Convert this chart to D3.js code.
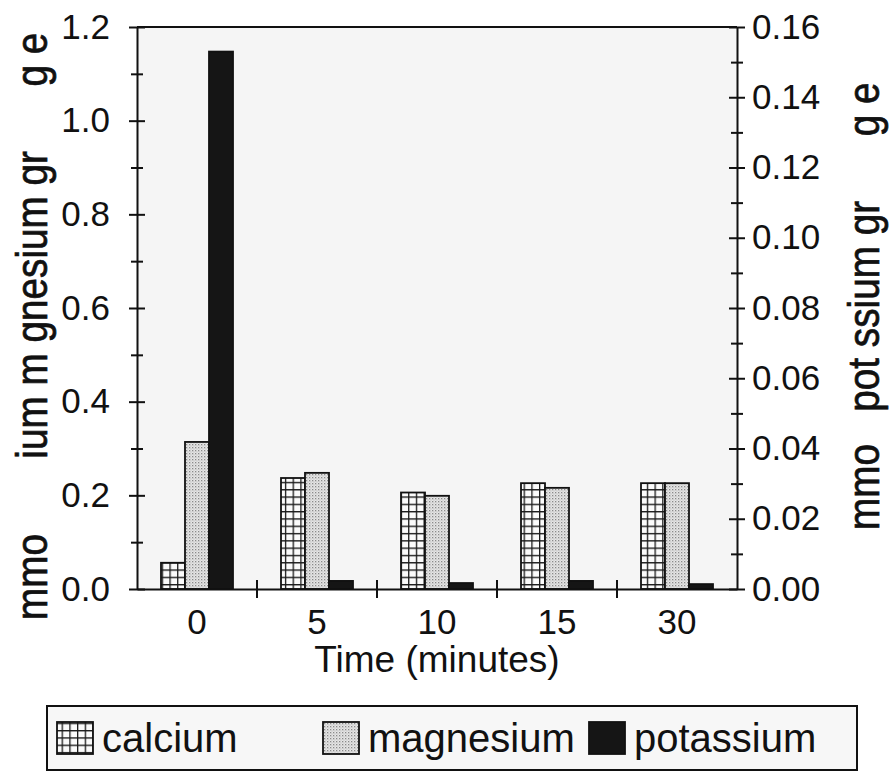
<!DOCTYPE html>
<html><head><meta charset="utf-8">
<script src="https://cdn.jsdelivr.net/npm/d3@7"></script>
<style>
body{margin:0;background:#fff}
svg text{font-family:"Liberation Sans",Arial,Helvetica,sans-serif;fill:#111}
</style>
</head><body><svg id="c" width="891" height="782"></svg>
<script>
// ---- data ----
const categories = ["0", "5", "10", "15", "30"];
const seriesNames = ["calcium", "magnesium", "potassium"];
const calcium   = [0.056, 0.237, 0.206, 0.226, 0.226];   // left axis
const magnesium = [0.314, 0.248, 0.199, 0.216, 0.226];   // left axis
const potassium = [0.153, 0.0023, 0.0017, 0.0023, 0.0014]; // right axis
const leftTicks  = [0, 0.2, 0.4, 0.6, 0.8, 1.0, 1.2];
const leftMinor  = [0.1, 0.3, 0.5, 0.7, 0.9, 1.1];
const rightTicks = [0, 0.02, 0.04, 0.06, 0.08, 0.10, 0.12, 0.14, 0.16];
const rightMinor = [0.01, 0.03, 0.05, 0.07, 0.09, 0.11, 0.13, 0.15];
const xTitle = "Time (minutes)";
const leftTitle  = "mmo       ium m gnesium gr      g e";
const rightTitle = "mmo   pot ssium gr      g e";

// ---- layout ----
const svg = d3.select("#c");
const X0 = 137, X1 = 737, YT = 27, YB = 589;

const x = d3.scaleBand().domain(categories).range([X0, X1]).padding(0);
const xs = d3.scaleBand().domain(seriesNames).range([0, x.bandwidth()]).paddingInner(0).paddingOuter(1);
const yL = d3.scaleLinear().domain([0, 1.2]).range([YB, YT]);
const yR = d3.scaleLinear().domain([0, 0.16]).range([YB, YT]);

const defs = svg.append("defs");
const pg = defs.append("pattern").attr("id", "grid").attr("patternUnits", "userSpaceOnUse")
  .attr("width", 7.7).attr("height", 7.3);
pg.append("rect").attr("width", 7.7).attr("height", 7.3).attr("fill", "#fbfbfb");
pg.append("path").attr("d", "M0.6,0V7.3M0,0.6H7.7").attr("stroke", "#1a1a1a").attr("stroke-width", 1.4);
const pd = defs.append("pattern").attr("id", "dots").attr("patternUnits", "userSpaceOnUse")
  .attr("width", 3).attr("height", 3);
pd.append("rect").attr("width", 3).attr("height", 3).attr("fill", "#e6e6e6");
pd.append("rect").attr("width", 1.3).attr("height", 1.3).attr("fill", "#8a8a8a");
pd.append("rect").attr("x", 1.5).attr("y", 1.5).attr("width", 1).attr("height", 1).attr("fill", "#b0b0b0");

// plot background
svg.append("rect").attr("x", X0).attr("y", YT).attr("width", X1 - X0).attr("height", YB - YT).attr("fill", "#f5f5f5");

// bars
const rows = categories.map((c, i) => ({cat: c, calcium: calcium[i], magnesium: magnesium[i], potassium: potassium[i]}));
const fills = {calcium: "url(#grid)", magnesium: "url(#dots)", potassium: "#151515"};
const scaleFor = {calcium: yL, magnesium: yL, potassium: yR};
const gb = svg.append("g");
rows.forEach(r => {
  seriesNames.forEach(s => {
    const sc = scaleFor[s];
    gb.append("rect")
      .attr("x", x(r.cat) + xs(s))
      .attr("y", sc(r[s]))
      .attr("width", xs.bandwidth())
      .attr("height", YB - sc(r[s]))
      .attr("fill", fills[s])
      .attr("stroke", "#111").attr("stroke-width", 1.8);
  });
});

// frame
svg.append("line").attr("x1", X0).attr("x2", X1).attr("y1", YT).attr("y2", YT).attr("stroke", "#111").attr("stroke-width", 2);

const fontTick = 35;
// left axis
const gl = svg.append("g").attr("transform", `translate(${X0},0)`)
  .call(d3.axisLeft(yL).tickValues(leftTicks).tickFormat(d3.format(".1f")).tickSizeOuter(0));
gl.select(".domain").attr("stroke", "#111").attr("stroke-width", 2);
gl.selectAll(".tick line").attr("x1", -8).attr("x2", 8).attr("stroke", "#111").attr("stroke-width", 2);
gl.selectAll(".tick text").attr("x", -27).attr("font-size", fontTick).attr("fill", "#111");
const glm = svg.append("g").attr("transform", `translate(${X0},0)`)
  .call(d3.axisLeft(yL).tickValues(leftMinor).tickFormat("").tickSizeOuter(0));
glm.select(".domain").remove();
glm.selectAll(".tick line").attr("x1", -6).attr("x2", 6).attr("stroke", "#111").attr("stroke-width", 2);

// right axis
const gr = svg.append("g").attr("transform", `translate(${X1},0)`)
  .call(d3.axisRight(yR).tickValues(rightTicks).tickFormat(d3.format(".2f")).tickSizeOuter(0));
gr.select(".domain").attr("stroke", "#111").attr("stroke-width", 2);
gr.selectAll(".tick line").attr("x1", -8).attr("x2", 8).attr("stroke", "#111").attr("stroke-width", 2);
gr.selectAll(".tick text").attr("x", 15).attr("font-size", fontTick).attr("fill", "#111");
const grm = svg.append("g").attr("transform", `translate(${X1},0)`)
  .call(d3.axisRight(yR).tickValues(rightMinor).tickFormat("").tickSizeOuter(0));
grm.select(".domain").remove();
grm.selectAll(".tick line").attr("x1", -6).attr("x2", 6).attr("stroke", "#111").attr("stroke-width", 2);

// x axis
const gx = svg.append("g").attr("transform", `translate(0,${YB})`)
  .call(d3.axisBottom(x).tickSize(0).tickSizeOuter(0));
gx.select(".domain").attr("stroke", "#111").attr("stroke-width", 2);
gx.selectAll(".tick line").remove();
gx.selectAll(".tick text").attr("y", 20).attr("dy", "0.71em").attr("font-size", fontTick).attr("fill", "#111");
// separators between groups (crossing ticks)
const bounds = categories.slice(1).map(c => x(c));
svg.append("g").selectAll("line").data(bounds).join("line")
  .attr("x1", d => d).attr("x2", d => d).attr("y1", YB - 9).attr("y2", YB + 9)
  .attr("stroke", "#111").attr("stroke-width", 2);

// axis titles
svg.append("text").attr("x", (X0 + X1) / 2).attr("y", 672).attr("text-anchor", "middle")
  .attr("font-size", 37).text(xTitle);
svg.append("g").attr("transform", "translate(47,620) rotate(-90) scale(0.88,1)")
  .append("text").attr("font-size", 44).attr("stroke", "#111").attr("stroke-width", 0.7)
  .style("white-space", "pre").attr("xml:space", "preserve").text(leftTitle);
svg.append("g").attr("transform", "translate(879,530) rotate(-90) scale(0.88,1)")
  .append("text").attr("font-size", 44).attr("stroke", "#111").attr("stroke-width", 0.7)
  .style("white-space", "pre").attr("xml:space", "preserve").text(rightTitle);

// legend
const lg = svg.append("g");
lg.append("rect").attr("x", 47).attr("y", 706).attr("width", 810).attr("height", 64)
  .attr("fill", "#f7f7f7").attr("stroke", "#111").attr("stroke-width", 2);
const legX = {calcium: 57, magnesium: 323, potassium: 589};
seriesNames.forEach(s => {
  lg.append("rect").attr("x", legX[s]).attr("y", 722).attr("width", 36).attr("height", 32)
    .attr("fill", fills[s]).attr("stroke", "#111").attr("stroke-width", 1.8);
  lg.append("text").attr("x", legX[s] + 45).attr("y", 752).attr("font-size", 40).text(s);
});
</script>
</body></html>
